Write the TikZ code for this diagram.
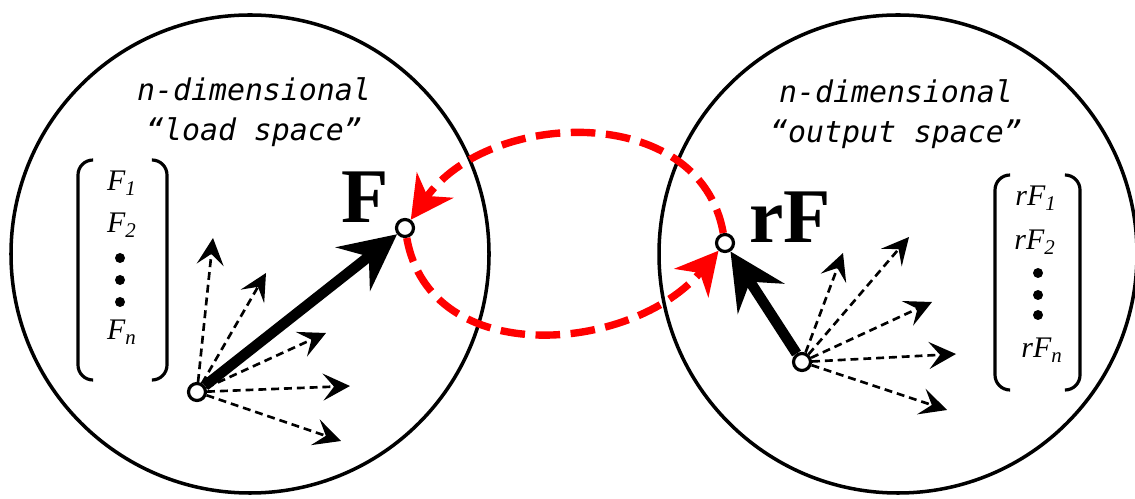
\documentclass[tikz,border=0pt]{standalone}
\usepackage{fontspec}
\setmainfont{Liberation Serif}
\newfontfamily\codefont{DejaVu Sans Mono}
\usetikzlibrary{arrows.meta}

\begin{document}
\begin{tikzpicture}[
  spacecirc/.style={draw, circle, line width=2pt, minimum size=9.56cm, inner sep=0pt},
  marker/.style={draw, circle, fill=white, line width=1.8pt, minimum size=0.34cm, inner sep=0pt},
  spacelabel/.style={font=\codefont\itshape\fontsize{17}{23}\selectfont, align=center},
  entry/.style={font=\fontsize{17}{20}\selectfont\itshape, inner sep=0pt},
  bullet/.style={circle, fill, minimum size=0.2cm, inner sep=0pt},
  big/.style={font=\bfseries\fontsize{44}{44}\selectfont, inner sep=0pt},
  brk/.style={line width=1.8pt, rounded corners=0.3cm},
  main/.style={-{Stealth[length=1.12cm, width=1.1cm, inset=0.4cm]}, line width=6pt},
  ray/.style={-{Stealth[length=0.54cm, width=0.54cm, inset=0.22cm]}, line width=1.5pt, dash pattern=on 4.5pt off 2.8pt},
  link/.style={-{Stealth[length=0.84cm, width=0.88cm, inset=0.26cm]}, red, line width=4.2pt, dash pattern=on 14pt off 6pt},
]
\useasboundingbox (0,0) rectangle (22.7,9.96);

\node[spacecirc] (load) at (5.00,4.88) {};
\node[spacecirc] (output) at (17.96,4.88) {};

\node[spacelabel] (loadcap) at (5.08,7.72) {n-dimensional\\“load space”};
\node[spacelabel] (outcap) at (17.92,7.68) {n-dimensional\\“output space”};

\node[entry] (f1) at (2.44,6.30) {F\textsubscript{1}};
\node[entry] (f2) at (2.44,5.46) {F\textsubscript{2}};
\node[bullet] (ld1) at (2.40,4.80) {};
\node[bullet] (ld2) at (2.40,4.36) {};
\node[bullet] (ld3) at (2.40,3.92) {};
\node[entry] (fn) at (2.44,3.32) {F\textsubscript{n}};
\draw[brk] (1.84,6.76) -- (1.56,6.76) -- (1.56,2.36) -- (1.84,2.36);
\draw[brk] (3.06,6.76) -- (3.34,6.76) -- (3.34,2.36) -- (3.06,2.36);

\node[entry] (rf1) at (20.72,6.00) {rF\textsubscript{1}};
\node[entry] (rf2) at (20.70,5.12) {rF\textsubscript{2}};
\node[bullet] (rd1) at (20.76,4.50) {};
\node[bullet] (rd2) at (20.76,4.06) {};
\node[bullet] (rd3) at (20.76,3.66) {};
\node[entry] (rfn) at (20.84,2.96) {rF\textsubscript{n}};
\draw[brk] (20.18,6.46) -- (19.90,6.46) -- (19.90,2.16) -- (20.18,2.16);
\draw[brk] (21.32,6.46) -- (21.60,6.46) -- (21.60,2.16) -- (21.32,2.16);

\node[big] (flab) at (7.30,6.02) {F};
\node[big] (rflab) at (15.80,5.62) {rF};

\node[marker] (lo) at (3.94,2.12) {};
\node[marker] (fpt) at (8.10,5.40) {};
\node[marker] (ro) at (16.04,2.72) {};
\node[marker] (rfpt) at (14.50,5.10) {};

\foreach \x/\y [count=\i] in {4.26/5.20, 5.32/4.50, 6.52/3.30, 7.00/2.24, 6.82/1.14}
  \coordinate (lt\i) at (\x,\y);
\foreach \x/\y [count=\i] in {16.86/4.90, 18.18/5.22, 18.64/3.92, 19.12/2.88, 18.94/1.76}
  \coordinate (rt\i) at (\x,\y);
\foreach \i in {1,...,5} {
  \draw[ray] (lo) -- (lt\i);
  \draw[ray] (ro) -- (rt\i);
}

\draw[main] (lo) -- (fpt);
\draw[main] (ro) -- (rfpt);

\draw[link] (rfpt) to[out=100, in=55, looseness=1.1] (fpt);
\draw[link] (fpt) to[out=-80, in=-130, looseness=1.1] (rfpt);
\end{tikzpicture}
\end{document}
